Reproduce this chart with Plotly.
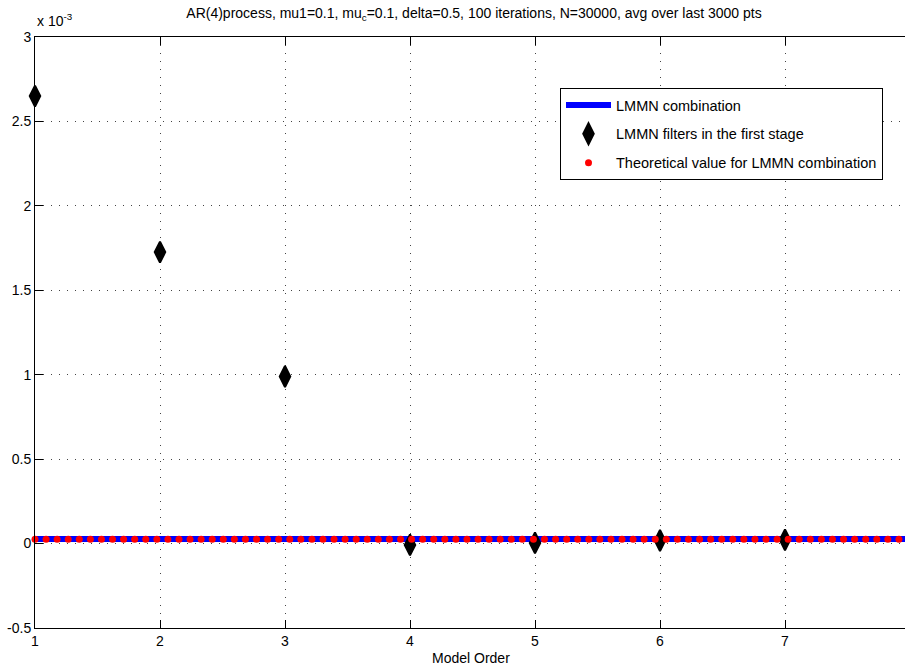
import numpy as np
import plotly.graph_objects as go

# ---- data (values in units of 1e-3) ----
model_order = [1, 2, 3, 4, 5, 6, 7, 8]
first_stage = [2.650, 1.726, 0.989, -0.008, 0.004, 0.018, 0.022, 0.026]
comb_x = [1, 8]
comb_y = [0.027, 0.027]
theo_x = np.linspace(1, 8, 80)
theo_y = [0.025] * 80

ytick_vals = [-0.5, 0, 0.5, 1, 1.5, 2, 2.5, 3]
ytick_text = ["-0.5", "0", "0.5", "1", "1.5", "2", "2.5", "3"]
xtick_vals = [1, 2, 3, 4, 5, 6, 7, 8]

scale = 1e-3
FONT = "Liberation Sans, Arial, Helvetica, sans-serif"

fig = go.Figure()
fig.add_trace(go.Scatter(
    x=comb_x, y=[v * scale for v in comb_y], mode="lines",
    line=dict(color="#0000ff", width=6), name="LMMN combination",
    legendgroup="a", cliponaxis=False))
fig.add_trace(go.Scatter(
    x=model_order, y=[v * scale for v in first_stage], mode="markers",
    marker=dict(symbol="diamond-tall", size=15, color="black",
                line=dict(color="black", width=2)),
    name="LMMN filters in the first stage", legendgroup="b", cliponaxis=False))
fig.add_trace(go.Scatter(
    x=theo_x, y=[v * scale for v in theo_y], mode="markers",
    marker=dict(symbol="circle", size=7, color="#ff0000"),
    name="Theoretical value for LMMN combination", legendgroup="c", cliponaxis=False))

grid = dict(showgrid=True, gridcolor="#444444", griddash="1px,7px", gridwidth=1)

fig.update_layout(
    width=905, height=669,
    margin=dict(l=35, r=0, t=37, b=41),
    paper_bgcolor="white", plot_bgcolor="white",
    font=dict(family=FONT, size=14, color="black"),
    showlegend=True,
    legend=dict(x=(560 - 35) / 870, y=(628 - 88) / 591, xanchor="left", yanchor="top",
                bordercolor="black", borderwidth=1, bgcolor="white",
                font=dict(size=14.5), tracegroupgap=7, itemwidth=45),
    title=dict(text="AR(4)process, mu1=0.1, mu<sub>c</sub>=0.1, delta=0.5, 100 iterations, N=30000, avg over last 3000 pts",
               x=474 / 905, xref="container", xanchor="center",
               y=1 - 13 / 669, yref="container", yanchor="middle",
               font=dict(size=14)),
    xaxis=dict(range=[1, 1 + 870 / 125], tickvals=xtick_vals, ticks="inside", ticklen=8,
               tickcolor="black", showline=True, linecolor="black", linewidth=1,
               mirror="ticks", zeroline=False, **grid),
    yaxis=dict(range=[-0.5e-3, 3e-3], tickvals=[v * scale for v in ytick_vals],
               ticktext=ytick_text, ticks="inside", ticklen=8, tickcolor="black",
               showline=True, linecolor="black", linewidth=1, mirror=False,
               zeroline=False, **grid),
    annotations=[
        dict(text="Model Order", x=(471 - 35) / 870, y=(628 - 658) / 591,
             xref="paper", yref="paper", xanchor="center", yanchor="middle",
             showarrow=False, font=dict(size=14)),
        dict(text="x 10<sup>-3</sup>", x=0, y=(628 - 20) / 591,
             xref="paper", yref="paper", xanchor="left", yanchor="middle",
             showarrow=False, font=dict(size=14)),
    ],
)

fig.write_html("out.html")
